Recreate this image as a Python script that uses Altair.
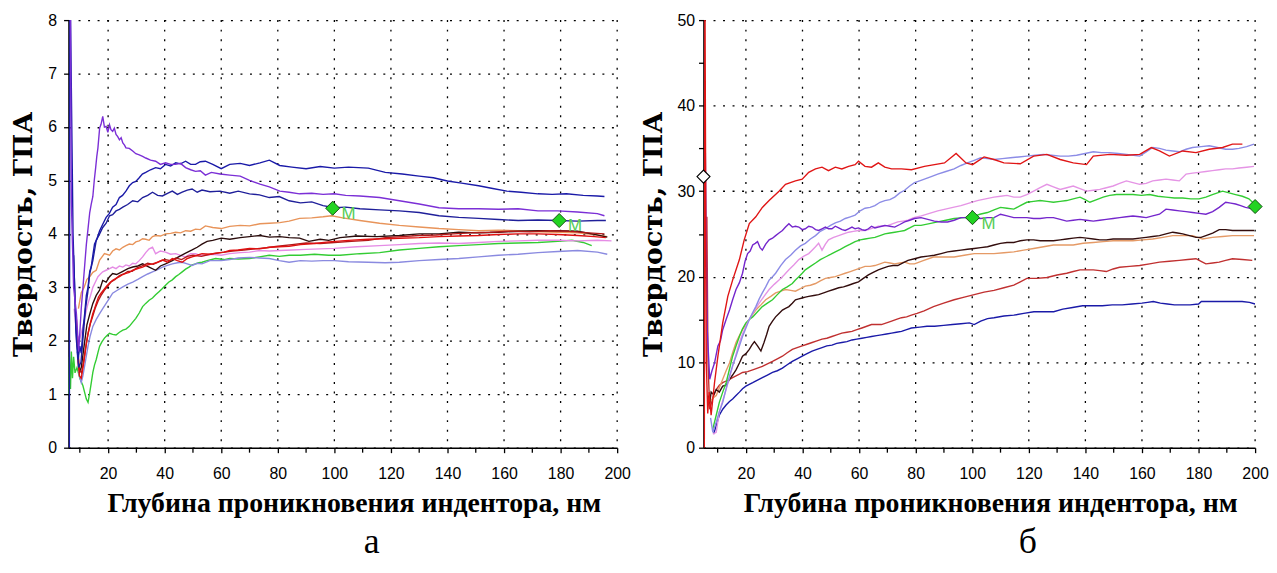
import altair as alt
import pandas as pd

# ---------------- panel "а" : hardness (GPa) vs indenter depth (nm) ----------------
A_NAVY = [(6.3, 0.0), (6.5, 9.0), (7.6, 4.0), (8.6, 2.2), (9.4, 1.65), (10.0, 1.9), (10.5, 1.77), (11.1, 2.2),
          (11.7, 2.5), (12.3, 2.85), (12.9, 3.0), (13.5, 3.3), (14.0, 3.38), (14.6, 3.6), (15.2, 3.81), (16.0, 3.9),
          (17.0, 4.06), (18.1, 4.18), (19.3, 4.31), (20.4, 4.38), (21.6, 4.5), (22.8, 4.55), (24.0, 4.68), (25.1, 4.72),
          (26.3, 4.8), (27.5, 4.9), (28.7, 4.96), (29.8, 4.98), (31.0, 5.05), (32.1, 5.12), (33.3, 5.15), (35.0, 5.2),
          (36.8, 5.24), (38.5, 5.22), (40.3, 5.3), (42.1, 5.27), (43.9, 5.33), (45.6, 5.31), (47.4, 5.36), (49.2, 5.3),
          (50.9, 5.3), (52.6, 5.35), (54.4, 5.36), (57.0, 5.3), (60.0, 5.22), (63.0, 5.3), (66.7, 5.32), (70.0, 5.28),
          (73.7, 5.33), (77.0, 5.38), (80.7, 5.28), (85.0, 5.25), (90.0, 5.22), (95.0, 5.26), (100.0, 5.23),
          (105.0, 5.25), (112.0, 5.23), (118.0, 5.15), (124.0, 5.12), (130.0, 5.08), (135.0, 5.05), (140.0, 4.99),
          (145.0, 4.95), (151.0, 4.9), (156.0, 4.85), (161.0, 4.8), (166.0, 4.78), (172.0, 4.75), (177.0, 4.74),
          (182.0, 4.75), (188.0, 4.72), (193.0, 4.71), (195.5, 4.7)]
A_BLUE = [(7.8, 3.6), (8.8, 2.0), (9.6, 1.5), (10.4, 1.6), (11.2, 2.1), (12.0, 2.6), (12.8, 2.9), (13.5, 3.26),
          (14.6, 3.5), (15.8, 3.88), (17.0, 4.0), (18.1, 4.12), (19.3, 4.2), (20.5, 4.34), (21.6, 4.36), (22.8, 4.43),
          (24.0, 4.46), (25.2, 4.5), (26.9, 4.55), (28.7, 4.62), (30.5, 4.6), (32.2, 4.68), (34.0, 4.72), (35.7, 4.78),
          (37.5, 4.72), (39.2, 4.71), (41.0, 4.76), (42.7, 4.8), (44.5, 4.74), (46.2, 4.78), (48.0, 4.82), (49.7, 4.84),
          (51.5, 4.78), (53.2, 4.82), (56.0, 4.79), (59.6, 4.8), (63.0, 4.76), (66.0, 4.8), (70.0, 4.75), (73.5, 4.73),
          (77.0, 4.68), (80.5, 4.7), (84.0, 4.62), (88.0, 4.58), (92.0, 4.6), (96.0, 4.53), (100.0, 4.49),
          (104.0, 4.5), (109.0, 4.47), (116.0, 4.45), (123.0, 4.43), (130.0, 4.4), (137.0, 4.34), (144.0, 4.31),
          (151.0, 4.29), (158.0, 4.27), (165.0, 4.25), (172.0, 4.26), (179.0, 4.25), (186.0, 4.24), (193.0, 4.25),
          (196.0, 4.25)]
A_PURPLE = [(6.6, 9.0), (7.0, 4.6), (7.8, 3.0), (8.8, 2.5), (9.6, 1.8), (10.5, 2.6), (11.1, 3.0), (11.7, 3.4),
            (12.3, 3.8), (12.9, 4.1), (13.5, 4.4), (14.0, 4.55), (14.6, 4.7), (15.1, 5.0), (15.6, 5.24), (16.0, 5.45),
            (16.4, 5.61), (17.0, 5.98), (17.5, 6.05), (18.1, 6.2), (18.7, 6.0), (19.3, 6.01), (19.9, 5.9),
            (20.5, 6.04), (21.0, 5.95), (21.6, 5.92), (22.2, 5.98), (22.8, 5.86), (23.4, 5.82), (24.0, 5.76),
            (24.6, 5.8), (25.2, 5.7), (25.8, 5.66), (26.3, 5.61), (27.5, 5.6), (28.7, 5.55), (29.8, 5.5), (31.0, 5.48),
            (32.2, 5.45), (33.3, 5.42), (35.0, 5.38), (36.8, 5.36), (38.5, 5.3), (40.3, 5.33), (42.1, 5.3),
            (43.9, 5.3), (45.6, 5.32), (47.4, 5.24), (49.2, 5.2), (50.9, 5.17), (52.6, 5.18), (54.4, 5.1),
            (56.5, 5.15), (59.6, 5.12), (63.0, 5.1), (66.7, 5.08), (70.0, 5.0), (73.7, 4.93), (77.0, 4.88),
            (80.7, 4.8), (84.0, 4.78), (87.7, 4.75), (92.0, 4.76), (96.0, 4.74), (100.0, 4.75), (104.0, 4.72),
            (109.0, 4.71), (116.0, 4.68), (123.0, 4.62), (130.0, 4.56), (137.0, 4.49), (144.0, 4.47), (151.0, 4.47),
            (158.0, 4.46), (165.0, 4.47), (172.0, 4.43), (179.0, 4.43), (186.0, 4.41), (193.0, 4.38), (195.5, 4.34)]
A_ORANGE = [(9.5, 2.6), (10.5, 2.9), (11.5, 3.0), (12.5, 3.15), (13.5, 3.2), (14.6, 3.28), (15.8, 3.32),
            (17.0, 3.51), (18.7, 3.63), (20.5, 3.6), (21.6, 3.68), (22.8, 3.72), (24.0, 3.7), (25.2, 3.75),
            (26.3, 3.78), (27.5, 3.81), (28.7, 3.8), (29.8, 3.85), (31.0, 3.87), (32.2, 3.91), (33.3, 3.9),
            (34.5, 3.88), (35.7, 3.95), (36.8, 3.97), (38.5, 3.96), (40.3, 4.0), (42.1, 4.01), (43.9, 4.03),
            (45.6, 4.02), (47.4, 4.06), (49.2, 4.05), (50.9, 4.09), (52.6, 4.08), (54.4, 4.15), (57.0, 4.12),
            (60.0, 4.1), (63.0, 4.14), (66.7, 4.16), (70.0, 4.15), (73.7, 4.19), (77.0, 4.2), (80.7, 4.21),
            (84.0, 4.24), (87.7, 4.29), (92.0, 4.3), (96.0, 4.32), (99.0, 4.34), (103.0, 4.3), (109.0, 4.25),
            (116.0, 4.2), (123.0, 4.16), (130.0, 4.13), (137.0, 4.1), (144.0, 4.08), (151.0, 4.06), (158.0, 4.07),
            (165.0, 4.06), (172.0, 4.04), (179.0, 4.03), (186.0, 4.02), (193.0, 3.98), (196.5, 3.95)]
A_BLACK = [(9.8, 1.4), (10.5, 1.5), (11.5, 1.9), (12.5, 2.3), (13.5, 2.5), (14.6, 2.7), (15.8, 2.85), (17.0, 2.95),
           (18.1, 3.13), (19.3, 3.1), (20.5, 3.2), (21.6, 3.26), (23.0, 3.24), (25.2, 3.3), (27.0, 3.35),
           (28.7, 3.38), (30.5, 3.4), (32.2, 3.44), (34.5, 3.38), (36.8, 3.32), (38.5, 3.4), (40.3, 3.44),
           (42.7, 3.5), (44.9, 3.57), (47.4, 3.64), (49.7, 3.7), (51.5, 3.75), (53.2, 3.81), (55.0, 3.86),
           (57.0, 3.88), (60.0, 3.92), (63.0, 3.9), (66.7, 3.93), (70.0, 3.95), (73.7, 3.97), (77.0, 3.94),
           (80.7, 3.95), (84.0, 3.93), (87.7, 3.92), (91.0, 3.86), (95.0, 3.9), (98.0, 3.88), (102.0, 3.93),
           (108.0, 3.96), (115.0, 3.95), (123.0, 3.97), (130.0, 4.0), (137.0, 4.0), (144.0, 4.03), (151.0, 4.02),
           (158.0, 4.03), (165.0, 4.05), (172.0, 4.06), (179.0, 4.06), (186.0, 4.05), (192.0, 3.99), (196.5, 3.94)]
A_RED = [(8.8, 2.4), (9.4, 1.6), (9.9, 1.34), (10.5, 1.3), (11.1, 1.5), (11.7, 1.71), (12.3, 1.95), (12.9, 2.14),
         (13.8, 2.35), (14.6, 2.51), (15.2, 2.6), (15.8, 2.7), (16.6, 2.82), (17.5, 2.89), (18.4, 2.95), (19.3, 3.01),
         (20.5, 3.08), (21.6, 3.13), (22.8, 3.17), (24.0, 3.2), (25.2, 3.24), (26.3, 3.26), (27.5, 3.28),
         (28.7, 3.32), (30.5, 3.35), (32.2, 3.38), (34.0, 3.42), (35.7, 3.44), (37.5, 3.47), (39.2, 3.51),
         (41.0, 3.47), (42.7, 3.54), (44.5, 3.5), (46.2, 3.47), (48.0, 3.54), (49.7, 3.57), (51.5, 3.6),
         (53.2, 3.63), (56.0, 3.62), (58.0, 3.64), (61.0, 3.66), (63.0, 3.69), (66.0, 3.7), (70.0, 3.73),
         (73.5, 3.72), (77.0, 3.75), (80.5, 3.76), (84.0, 3.77), (88.0, 3.8), (93.0, 3.82), (98.0, 3.85),
         (105.0, 3.88), (112.0, 3.9), (118.0, 3.91), (123.0, 3.92), (130.0, 3.93), (137.0, 3.95), (144.0, 3.96),
         (151.0, 3.97), (158.0, 3.99), (165.0, 4.0), (172.0, 4.0), (179.0, 3.99), (186.0, 3.97), (192.0, 3.95),
         (196.0, 3.93)]
A_DARKRED = [(9.2, 1.9), (9.9, 1.45), (10.6, 1.4), (11.3, 1.6), (12.0, 1.85), (12.8, 2.1), (13.6, 2.3),
             (14.5, 2.45), (15.5, 2.62), (16.5, 2.75), (17.5, 2.85), (18.6, 2.94), (19.8, 3.02), (21.0, 3.1),
             (22.5, 3.15), (24.0, 3.22), (25.5, 3.25), (27.0, 3.3), (28.5, 3.3), (30.0, 3.36), (32.0, 3.4),
             (34.0, 3.45), (36.0, 3.43), (38.0, 3.48), (40.0, 3.52), (42.0, 3.5), (44.0, 3.55), (46.0, 3.52),
             (48.0, 3.58), (50.0, 3.6), (53.0, 3.58), (56.0, 3.62), (60.0, 3.65), (64.0, 3.68), (68.0, 3.7),
             (72.0, 3.72), (76.0, 3.74), (80.0, 3.77), (85.0, 3.8), (90.0, 3.83), (95.0, 3.82), (100.0, 3.84),
             (106.0, 3.86), (112.0, 3.88), (118.0, 3.93), (124.0, 3.95), (130.0, 3.97), (136.0, 3.98), (142.0, 4.0),
             (148.0, 4.02), (155.0, 4.03), (162.0, 4.05), (169.0, 4.04), (176.0, 4.06), (183.0, 4.05), (190.0, 4.02),
             (195.5, 4.0)]
A_PINK = [(8.0, 2.6), (8.8, 2.14), (9.9, 2.02), (11.1, 2.27), (12.0, 2.5), (12.9, 2.7), (13.8, 2.85), (14.6, 3.0),
          (15.5, 3.1), (16.4, 3.2), (17.3, 3.25), (18.1, 3.29), (19.3, 3.32), (20.5, 3.35), (21.6, 3.38),
          (22.8, 3.35), (24.0, 3.4), (25.2, 3.38), (26.3, 3.42), (27.5, 3.4), (28.7, 3.45), (29.8, 3.44), (31.0, 3.5),
          (32.2, 3.57), (33.3, 3.65), (34.5, 3.72), (35.7, 3.75), (36.8, 3.63), (38.5, 3.68), (40.3, 3.66),
          (42.1, 3.62), (43.9, 3.63), (45.6, 3.6), (47.4, 3.57), (49.2, 3.63), (50.9, 3.63), (52.6, 3.6),
          (54.4, 3.6), (57.0, 3.62), (60.0, 3.6), (63.0, 3.63), (66.7, 3.65), (70.0, 3.66), (73.7, 3.69),
          (77.0, 3.68), (80.7, 3.69), (85.0, 3.7), (90.0, 3.71), (95.0, 3.72), (100.0, 3.73), (108.0, 3.76),
          (116.0, 3.78), (123.0, 3.8), (130.0, 3.82), (137.0, 3.83), (144.0, 3.82), (151.0, 3.84), (158.0, 3.86),
          (165.0, 3.87), (172.0, 3.88), (179.0, 3.88), (186.0, 3.87), (193.0, 3.88), (198.0, 3.87)]
A_LIGHTBLUE = [(9.0, 1.8), (9.8, 1.35), (10.5, 1.22), (11.1, 1.35), (11.7, 1.53), (12.3, 1.72), (12.9, 1.9),
               (13.7, 2.1), (14.6, 2.27), (15.8, 2.4), (17.0, 2.51), (18.1, 2.6), (19.3, 2.7), (20.5, 2.8),
               (21.6, 2.89), (23.4, 2.95), (25.2, 3.01), (27.0, 3.06), (28.7, 3.1), (30.5, 3.15), (32.2, 3.2),
               (34.0, 3.25), (35.7, 3.29), (37.5, 3.33), (39.2, 3.38), (41.0, 3.41), (42.7, 3.44), (44.5, 3.46),
               (46.2, 3.47), (48.0, 3.44), (49.7, 3.41), (51.5, 3.45), (53.2, 3.44), (56.0, 3.5), (60.0, 3.5),
               (63.0, 3.52), (66.0, 3.55), (70.0, 3.56), (73.5, 3.55), (77.0, 3.54), (80.5, 3.5), (84.0, 3.47),
               (88.0, 3.5), (92.0, 3.49), (96.0, 3.5), (100.0, 3.5), (105.0, 3.48), (112.0, 3.47), (118.0, 3.46),
               (123.0, 3.47), (130.0, 3.5), (137.0, 3.52), (144.0, 3.54), (151.0, 3.57), (158.0, 3.6), (165.0, 3.62),
               (172.0, 3.65), (179.0, 3.67), (186.0, 3.69), (193.0, 3.66), (196.5, 3.62)]
A_GREEN = [(6.1, 1.0), (6.3, 1.7), (6.7, 1.1), (7.0, 1.8), (7.4, 1.3), (7.8, 1.7), (8.3, 1.4), (9.0, 1.5),
           (10.0, 1.3), (11.1, 1.16), (12.3, 0.91), (12.9, 0.85), (13.5, 1.03), (14.0, 1.2), (14.6, 1.41),
           (15.2, 1.55), (15.8, 1.65), (16.4, 1.78), (17.0, 1.9), (17.8, 1.98), (18.7, 2.05), (19.6, 2.1),
           (20.5, 2.14), (21.6, 2.12), (22.8, 2.11), (24.0, 2.16), (25.2, 2.2), (26.3, 2.22), (27.5, 2.27),
           (28.7, 2.35), (29.8, 2.42), (31.0, 2.52), (32.2, 2.64), (33.3, 2.7), (34.5, 2.76), (35.7, 2.8),
           (36.8, 2.86), (38.0, 2.92), (39.2, 2.98), (40.3, 3.04), (41.5, 3.1), (42.7, 3.14), (43.9, 3.2),
           (45.0, 3.24), (46.2, 3.29), (47.4, 3.34), (48.6, 3.38), (49.7, 3.42), (50.9, 3.44), (52.0, 3.46),
           (53.2, 3.47), (55.0, 3.5), (58.0, 3.54), (61.0, 3.52), (63.0, 3.54), (66.0, 3.53), (70.0, 3.54),
           (73.5, 3.57), (77.0, 3.6), (80.5, 3.58), (84.0, 3.6), (88.0, 3.6), (93.0, 3.62), (98.0, 3.6),
           (102.0, 3.6), (109.0, 3.63), (116.0, 3.65), (123.0, 3.7), (130.0, 3.73), (137.0, 3.76), (144.0, 3.78),
           (151.0, 3.8), (158.0, 3.82), (165.0, 3.83), (172.0, 3.84), (179.0, 3.86), (184.0, 3.88), (188.0, 3.84),
           (191.0, 3.78)]
A_MARKERS = [(99.4, 4.48), (179.5, 4.25)]

# ---------------- panel "б" ----------------
B_RED = [(5.3, 0.0), (5.5, 55.0), (6.0, 10.0), (6.5, 4.0), (7.0, 6.5), (7.7, 3.8), (8.9, 7.6), (10.1, 10.7),
         (11.8, 14.6), (13.6, 17.7), (15.3, 19.6), (17.7, 22.0), (19.4, 24.3), (21.2, 26.2), (23.5, 27.0),
         (25.8, 28.1), (28.2, 28.9), (31.7, 30.0), (34.0, 30.8), (37.5, 31.2), (39.9, 31.4), (42.2, 32.2),
         (44.6, 32.6), (46.9, 32.8), (49.2, 32.4), (51.6, 32.8), (53.9, 32.6), (56.3, 32.9), (58.6, 33.1),
         (59.8, 33.5), (62.1, 32.9), (64.4, 32.8), (66.8, 33.3), (69.1, 32.8), (71.5, 32.6), (75.0, 32.6),
         (78.5, 32.5), (83.1, 32.9), (90.2, 33.3), (94.3, 34.4), (97.8, 33.3), (100.1, 33.1), (104.2, 34.0),
         (107.7, 33.7), (111.2, 33.3), (117.0, 33.2), (121.7, 34.1), (126.4, 34.3), (131.1, 33.7), (135.7, 33.3),
         (140.4, 33.1), (142.8, 34.1), (148.6, 34.3), (154.5, 34.2), (159.2, 34.3), (163.3, 35.1), (166.2, 34.7),
         (169.7, 34.1), (174.4, 34.7), (179.1, 34.5), (183.8, 34.9), (188.5, 35.1), (192.0, 35.5), (195.5, 35.5)]
B_LIGHTBLUE = [(7.5, 3.5), (8.3, 1.8), (9.5, 3.0), (10.6, 4.2), (11.8, 5.3), (13.0, 6.9), (14.2, 8.4), (15.3, 9.6),
               (16.5, 10.7), (17.7, 11.9), (18.8, 13.0), (20.0, 14.0), (21.2, 15.0), (22.4, 15.8), (23.5, 16.5),
               (24.7, 17.4), (25.8, 18.1), (27.0, 18.8), (28.2, 19.6), (29.4, 20.0), (30.5, 20.4), (32.3, 21.3),
               (34.0, 22.0), (35.8, 22.5), (37.5, 23.1), (39.3, 23.6), (41.0, 23.9), (42.8, 24.4), (44.6, 24.8),
               (46.3, 25.3), (48.1, 25.6), (49.9, 26.0), (51.6, 26.3), (53.4, 26.5), (55.1, 26.8), (56.9, 27.0),
               (58.6, 27.2), (60.4, 27.7), (62.1, 28.0), (63.9, 28.1), (65.6, 28.3), (67.4, 28.7), (69.1, 28.9),
               (70.9, 29.0), (72.6, 29.3), (74.4, 29.8), (76.1, 30.1), (77.9, 30.6), (79.6, 31.0), (81.4, 31.2),
               (83.1, 31.4), (85.5, 31.7), (87.8, 32.0), (90.7, 32.3), (93.6, 32.6), (96.0, 33.0), (98.3, 33.3),
               (100.7, 33.6), (103.0, 33.9), (105.4, 33.8), (107.7, 33.7), (110.6, 33.8), (113.5, 33.9),
               (116.4, 34.0), (119.3, 34.1), (122.3, 34.2), (125.2, 34.3), (128.1, 34.2), (131.1, 34.1),
               (134.0, 34.1), (136.9, 34.2), (139.9, 34.4), (142.8, 34.6), (145.7, 34.5), (148.6, 34.5),
               (151.6, 34.4), (154.5, 34.3), (157.0, 34.2), (159.2, 34.1), (161.5, 34.6), (163.8, 35.1),
               (166.2, 35.0), (168.5, 34.8), (170.9, 34.7), (173.2, 34.6), (175.6, 34.9), (177.9, 35.1),
               (180.9, 35.2), (183.8, 35.3), (186.7, 35.1), (189.6, 34.9), (192.0, 34.9), (194.3, 35.0),
               (197.0, 35.2), (199.6, 35.5)]
B_PINK = [(8.3, 1.6), (9.5, 1.8), (10.6, 4.2), (11.8, 5.5), (13.0, 6.8), (14.2, 8.2), (15.3, 9.5), (16.5, 10.9),
          (17.7, 12.3), (18.8, 13.3), (20.0, 14.2), (21.2, 15.0), (22.4, 15.7), (23.5, 16.3), (24.7, 16.9),
          (26.4, 17.7), (28.2, 18.5), (30.0, 19.1), (31.7, 19.6), (33.5, 20.2), (35.2, 20.8), (37.0, 21.4),
          (38.7, 22.0), (40.5, 22.4), (42.2, 22.7), (43.4, 23.1), (44.6, 23.5), (45.7, 23.9), (46.9, 23.1),
          (48.1, 23.8), (49.2, 24.3), (51.0, 24.6), (52.8, 24.8), (54.5, 25.0), (56.3, 25.2), (58.0, 25.3),
          (59.8, 25.4), (61.5, 25.4), (63.3, 25.5), (65.0, 25.7), (66.8, 25.9), (68.5, 25.9), (70.3, 26.0),
          (72.0, 26.2), (73.7, 26.4), (75.5, 26.5), (77.3, 26.6), (79.3, 26.9), (82.0, 27.1), (84.9, 27.4),
          (87.8, 27.7), (90.5, 27.9), (93.2, 28.1), (96.0, 28.3), (98.9, 28.6), (101.8, 28.9), (104.7, 29.1),
          (107.7, 29.3), (110.0, 29.4), (112.3, 29.5), (114.7, 29.3), (117.0, 29.3), (119.3, 29.6), (121.7, 30.0),
          (124.0, 30.4), (126.4, 30.8), (128.7, 30.5), (131.1, 30.2), (133.4, 30.4), (135.7, 30.6), (138.1, 30.3),
          (140.4, 30.0), (142.8, 30.1), (145.1, 30.2), (147.4, 30.4), (149.8, 30.6), (152.1, 30.9), (154.5, 31.2),
          (156.8, 31.0), (159.2, 30.8), (161.5, 30.9), (163.8, 31.2), (166.2, 31.3), (168.5, 31.4), (170.9, 31.3),
          (173.2, 31.2), (175.6, 32.0), (177.9, 32.1), (180.2, 32.2), (182.6, 32.3), (184.9, 32.4), (187.3, 32.5),
          (189.6, 32.6), (192.0, 32.6), (194.3, 32.7), (197.0, 32.8), (199.6, 32.9)]
B_GREEN = [(8.3, 2.2), (9.5, 3.8), (10.6, 5.3), (11.8, 6.5), (13.0, 7.6), (14.2, 9.2), (15.3, 10.7), (16.5, 11.9),
           (17.7, 13.0), (18.8, 13.9), (20.0, 14.6), (21.2, 15.0), (22.4, 15.3), (24.1, 15.9), (25.8, 16.5),
           (27.6, 16.9), (29.4, 17.3), (31.1, 17.9), (32.9, 18.5), (34.6, 18.8), (36.4, 19.2), (37.5, 19.6),
           (38.7, 20.0), (39.9, 20.4), (41.0, 20.8), (42.8, 21.2), (44.6, 21.6), (46.3, 22.0), (48.1, 22.3),
           (49.9, 22.6), (51.6, 22.9), (53.4, 23.2), (55.1, 23.5), (56.9, 23.8), (58.6, 24.1), (60.4, 24.3),
           (62.1, 24.4), (63.9, 24.5), (65.6, 24.6), (67.4, 24.8), (69.1, 25.0), (70.9, 25.1), (72.6, 25.2),
           (74.4, 25.3), (76.1, 25.4), (77.9, 25.7), (79.6, 26.0), (81.9, 26.0), (84.9, 26.2), (87.8, 26.4),
           (90.7, 26.6), (93.6, 26.8), (97.1, 26.9), (100.1, 27.0), (102.7, 27.3), (105.4, 27.5), (107.7, 27.8),
           (110.0, 28.1), (112.3, 28.0), (114.7, 27.9), (117.0, 28.3), (119.3, 28.7), (121.7, 28.8), (124.0, 28.9),
           (126.4, 28.8), (128.7, 28.7), (131.1, 28.8), (133.4, 28.9), (135.7, 29.1), (138.1, 29.3), (139.9, 29.0),
           (141.6, 28.7), (144.0, 29.0), (146.3, 29.3), (148.6, 29.5), (151.0, 29.6), (154.0, 29.6), (156.8, 29.6),
           (159.8, 29.5), (162.7, 29.6), (165.6, 29.4), (168.5, 29.3), (171.5, 29.2), (174.4, 29.2), (177.3, 29.1),
           (180.2, 29.1), (182.6, 29.3), (184.9, 29.6), (186.7, 29.8), (188.5, 30.0), (190.8, 29.8), (193.1, 29.6),
           (195.5, 29.4), (197.8, 29.1), (200.0, 28.4)]
B_PURPLE = [(5.5, 39.5), (6.3, 14.0), (7.2, 8.0), (8.0, 9.0), (8.9, 9.9), (10.1, 11.9), (11.0, 12.5), (11.8, 13.8),
            (13.0, 15.0), (14.2, 16.1), (15.3, 17.3), (16.5, 18.5), (17.7, 19.3), (18.8, 20.4), (19.7, 21.8),
            (20.6, 22.7), (21.5, 23.0), (22.4, 23.7), (23.3, 23.9), (24.1, 24.1), (25.0, 23.4), (25.8, 23.1),
            (27.0, 23.8), (28.2, 24.3), (29.4, 24.5), (30.5, 24.8), (31.7, 25.1), (32.9, 25.4), (34.0, 25.8),
            (35.2, 26.2), (36.4, 25.8), (37.5, 25.9), (38.7, 25.8), (39.9, 25.5), (41.0, 25.6), (42.2, 25.9),
            (43.4, 25.8), (44.6, 25.5), (45.7, 25.4), (46.9, 25.6), (48.1, 25.8), (49.2, 25.6), (50.4, 25.6),
            (51.6, 25.9), (52.8, 25.7), (54.0, 25.5), (55.1, 25.4), (56.3, 25.6), (57.5, 25.8), (58.6, 25.6),
            (59.8, 25.7), (61.0, 25.5), (62.1, 25.4), (63.3, 25.6), (64.4, 25.9), (65.6, 25.7), (66.8, 25.8),
            (68.0, 25.9), (69.1, 26.0), (70.9, 25.9), (72.6, 25.8), (74.4, 26.1), (76.1, 26.4), (77.9, 26.6),
            (79.6, 26.8), (81.9, 26.9), (84.3, 26.7), (86.6, 26.5), (89.0, 26.4), (91.3, 26.4), (93.6, 26.6),
            (96.0, 26.9), (98.0, 26.9), (100.1, 26.9), (103.0, 26.8), (105.4, 26.9), (107.7, 26.9), (110.0, 27.3),
            (112.3, 27.1), (114.7, 26.9), (117.0, 26.9), (119.3, 26.9), (121.7, 26.8), (124.0, 26.8), (126.4, 26.9),
            (128.7, 26.9), (131.1, 26.7), (133.4, 26.5), (135.7, 26.6), (138.1, 26.7), (140.4, 26.6), (142.8, 26.5),
            (145.1, 26.6), (147.4, 26.7), (149.8, 26.8), (152.1, 26.9), (154.5, 27.0), (156.8, 27.1), (159.2, 27.0),
            (161.5, 26.9), (163.8, 27.1), (166.2, 27.3), (168.5, 27.9), (170.9, 27.8), (173.2, 27.7), (175.6, 27.6),
            (177.9, 27.5), (180.2, 27.4), (182.6, 27.3), (185.0, 27.6), (187.3, 28.1), (189.6, 28.7), (191.4, 28.6),
            (193.1, 28.5), (194.9, 28.3), (196.6, 28.1), (199.6, 27.9)]
B_BLACK = [(6.6, 6.1), (7.2, 5.2), (7.7, 6.5), (8.6, 6.2), (9.5, 6.8), (10.6, 6.5), (11.8, 7.2), (13.0, 7.3),
           (14.2, 8.0), (15.3, 8.5), (16.5, 9.1), (17.7, 9.9), (18.8, 10.7), (20.0, 11.0), (21.2, 11.5), (22.1, 12.0),
           (23.0, 12.4), (24.1, 11.9), (25.3, 11.3), (26.4, 12.3), (27.3, 13.2), (28.2, 14.2), (29.4, 14.8),
           (30.5, 15.3), (31.7, 15.7), (32.9, 16.1), (34.0, 16.3), (35.2, 16.5), (36.4, 16.9), (37.5, 17.3),
           (38.7, 17.4), (39.9, 17.5), (41.0, 17.6), (42.2, 17.7), (44.0, 17.8), (45.7, 17.9), (47.5, 18.1),
           (49.2, 18.3), (51.0, 18.5), (52.8, 18.7), (54.5, 18.8), (56.3, 19.0), (58.0, 19.2), (59.8, 19.4),
           (61.5, 19.8), (63.3, 20.2), (65.0, 20.5), (66.8, 20.8), (68.5, 21.0), (70.3, 21.2), (72.0, 21.3),
           (73.7, 21.3), (75.5, 21.6), (77.3, 21.9), (79.6, 22.1), (81.9, 22.3), (84.3, 22.4), (86.6, 22.5),
           (89.0, 22.7), (91.3, 22.9), (93.6, 23.0), (96.0, 23.1), (98.3, 23.2), (100.7, 23.3), (103.0, 23.4),
           (105.4, 23.5), (107.7, 23.7), (110.0, 23.9), (112.3, 24.0), (114.7, 24.0), (117.0, 24.2), (119.3, 24.3),
           (121.7, 24.3), (124.0, 24.2), (126.4, 24.2), (128.7, 24.2), (131.1, 24.3), (133.4, 24.4), (135.7, 24.5),
           (138.1, 24.6), (140.4, 24.5), (142.8, 24.4), (145.1, 24.3), (147.4, 24.3), (149.8, 24.4), (152.1, 24.4),
           (154.5, 24.4), (156.8, 24.4), (159.2, 24.5), (161.5, 24.6), (163.8, 24.7), (166.2, 24.8), (168.5, 25.0),
           (170.9, 25.2), (172.6, 25.1), (174.4, 25.0), (176.8, 24.8), (179.1, 24.6), (180.9, 24.6), (182.6, 24.8),
           (185.0, 25.1), (187.3, 25.5), (189.6, 25.5), (192.0, 25.4), (195.0, 25.4), (198.0, 25.4), (199.6, 25.4)]
B_ORANGE = [(7.2, 5.3), (8.3, 5.8), (9.5, 6.1), (10.6, 7.0), (11.8, 8.0), (13.0, 9.0), (14.2, 9.9), (15.3, 11.1),
            (16.5, 12.3), (17.7, 13.1), (18.8, 13.8), (20.0, 14.4), (21.2, 15.0), (22.4, 15.6), (23.5, 16.1),
            (25.3, 16.7), (27.0, 17.3), (28.8, 17.7), (30.5, 18.1), (32.3, 18.3), (34.0, 18.5), (35.8, 18.4),
            (37.5, 18.3), (39.3, 18.6), (41.0, 18.9), (42.8, 19.0), (44.6, 19.2), (46.3, 19.5), (48.1, 19.8),
            (49.9, 19.9), (51.6, 20.0), (53.4, 20.2), (55.1, 20.4), (56.9, 20.6), (58.6, 20.8), (60.4, 21.0),
            (62.1, 21.2), (63.9, 21.2), (65.6, 21.3), (67.4, 21.5), (69.1, 21.7), (70.9, 21.6), (72.6, 21.5),
            (74.4, 21.6), (76.1, 21.7), (77.9, 21.5), (79.6, 21.5), (82.9, 21.9), (86.3, 22.3), (89.9, 22.3),
            (93.6, 22.3), (97.2, 22.5), (100.7, 22.7), (104.2, 22.7), (107.7, 22.7), (111.2, 22.8), (114.7, 22.9),
            (118.2, 23.1), (121.7, 23.3), (125.2, 23.5), (128.7, 23.7), (132.2, 23.7), (135.7, 23.7), (139.2, 23.9),
            (142.8, 24.0), (146.3, 24.1), (149.8, 24.2), (153.3, 24.2), (156.8, 24.2), (160.3, 24.3), (163.8, 24.4),
            (167.4, 24.6), (170.9, 24.8), (174.4, 24.8), (177.9, 24.8), (181.4, 24.4), (184.9, 24.6), (188.5, 24.7),
            (192.0, 24.8), (195.8, 24.8), (199.6, 24.8)]
B_DARKRED = [(6.2, 27.0), (6.6, 10.0), (7.2, 4.5), (8.3, 5.8), (9.5, 6.8), (10.6, 7.3), (11.8, 7.6), (13.0, 7.8),
             (14.2, 8.0), (15.3, 8.2), (16.5, 8.4), (17.7, 8.6), (18.8, 8.8), (20.6, 8.9), (22.4, 9.1), (24.1, 9.3),
             (25.8, 9.5), (27.6, 9.8), (29.4, 10.1), (31.1, 10.4), (32.9, 10.7), (34.6, 11.1), (36.4, 11.5),
             (38.1, 11.7), (39.9, 11.9), (41.6, 12.1), (43.4, 12.3), (45.1, 12.5), (46.9, 12.7), (48.6, 12.8),
             (50.4, 13.0), (52.1, 13.2), (53.9, 13.4), (55.7, 13.5), (57.5, 13.6), (59.2, 13.8), (61.0, 14.0),
             (62.7, 14.2), (64.4, 14.4), (66.2, 14.4), (67.9, 14.4), (69.7, 14.6), (71.5, 14.8), (73.2, 15.0),
             (75.0, 15.2), (76.8, 15.3), (78.5, 15.5), (80.5, 15.7), (83.0, 16.0), (86.3, 16.5), (89.9, 16.9),
             (93.6, 17.3), (97.2, 17.6), (100.7, 17.9), (104.2, 18.2), (107.7, 18.4), (111.2, 18.7), (114.7, 19.0),
             (117.0, 19.4), (119.3, 19.8), (122.9, 19.8), (126.4, 19.9), (130.0, 20.2), (133.4, 20.4), (135.7, 20.6),
             (138.1, 20.8), (140.4, 20.8), (142.8, 20.8), (145.1, 20.7), (147.4, 20.6), (149.8, 20.9), (152.1, 21.1),
             (155.6, 21.2), (159.2, 21.3), (162.7, 21.5), (166.2, 21.7), (169.7, 21.8), (173.2, 21.9), (176.2, 22.0),
             (179.1, 22.1), (180.9, 21.8), (182.6, 21.5), (185.0, 21.6), (187.3, 21.7), (189.6, 21.9), (192.0, 22.1),
             (195.5, 22.0), (199.0, 21.9)]
B_BLUE = [(8.6, 1.6), (9.5, 2.6), (10.6, 3.8), (11.8, 4.5), (13.0, 5.0), (14.2, 5.4), (15.3, 5.7), (16.5, 6.1),
          (17.7, 6.5), (18.8, 6.9), (20.0, 7.2), (21.2, 7.4), (22.4, 7.6), (24.1, 7.9), (25.8, 8.2), (27.6, 8.5),
          (29.4, 8.8), (31.1, 9.0), (32.9, 9.3), (34.6, 9.7), (36.4, 10.1), (38.1, 10.4), (39.9, 10.7), (41.6, 11.0),
          (43.4, 11.3), (45.1, 11.5), (46.9, 11.7), (48.6, 11.9), (50.4, 12.0), (52.1, 12.2), (53.9, 12.3),
          (55.7, 12.4), (57.5, 12.6), (59.2, 12.7), (61.0, 12.8), (62.7, 12.9), (64.4, 13.0), (66.2, 13.1),
          (67.9, 13.2), (69.7, 13.3), (71.5, 13.4), (73.2, 13.5), (75.0, 13.6), (76.8, 13.8), (78.5, 14.0),
          (81.5, 14.1), (84.0, 14.2), (86.7, 14.2), (89.9, 14.3), (93.0, 14.4), (96.0, 14.5), (99.0, 14.6),
          (100.7, 14.4), (103.0, 14.8), (105.4, 15.1), (107.7, 15.2), (111.2, 15.4), (114.7, 15.5), (118.2, 15.7),
          (121.8, 15.9), (125.3, 15.9), (128.8, 15.9), (132.0, 16.2), (135.5, 16.4), (139.0, 16.6), (142.5, 16.6),
          (146.0, 16.6), (149.5, 16.7), (153.0, 16.7), (156.5, 16.8), (160.0, 16.9), (162.0, 17.0), (164.0, 17.1),
          (166.5, 16.9), (169.0, 16.8), (171.5, 16.7), (174.0, 16.7), (177.0, 16.7), (180.0, 16.8), (181.0, 17.1),
          (184.5, 17.1), (188.0, 17.1), (191.7, 17.1), (195.4, 17.1), (198.0, 17.0), (200.0, 16.8)]
B_MARKERS = [(100.1, 26.9), (200.0, 28.2)]
B_START_MARK = [(5.0, 31.7)]

X_MAJOR = [20, 40, 60, 80, 100, 120, 140, 160, 180, 200]
X_MINOR = [10, 30, 50, 70, 90, 110, 130, 150, 170, 190]

X_TITLE = "Глубина проникновения индентора, нм"
Y_TITLE = "Твердость, ГПА"

SERIES_A = [("a_orange", "#e8945a", A_ORANGE), ("a_green", "#33cc33", A_GREEN),
            ("a_lightblue", "#8a8ae0", A_LIGHTBLUE), ("a_pink", "#e58ce5", A_PINK),
            ("a_black", "#2b0c0c", A_BLACK), ("a_darkred", "#b01a1a", A_DARKRED), ("a_red", "#e01010", A_RED),
            ("a_blue", "#1f1f9a", A_BLUE), ("a_navy", "#1a1aa8", A_NAVY), ("a_purple", "#7b2fd6", A_PURPLE)]
SERIES_B = [("b_blue", "#1a1aa8", B_BLUE), ("b_darkred", "#c03030", B_DARKRED), ("b_orange", "#e59a66", B_ORANGE),
            ("b_black", "#330d0d", B_BLACK), ("b_green", "#33cc33", B_GREEN), ("b_pink", "#e594e5", B_PINK),
            ("b_lightblue", "#8c8ce6", B_LIGHTBLUE), ("b_purple", "#7426cc", B_PURPLE), ("b_red", "#e01515", B_RED)]

LABEL_FONT = "Liberation Sans"
GRID_DASH = [2, 7.6]


def lines_df(series):
    rows = []
    for name, _, pts in series:
        for i, (x, y) in enumerate(pts):
            rows.append({"curve": name, "x": x, "y": y, "i": i})
    return pd.DataFrame(rows)


def panel(series, markers, xmin, ymax, ystep, ymajor, width, height, ytitle_x, ylab_pad, caption, caption_dx,
          extra_pts=None):
    names = [s[0] for s in series]
    cols = [s[1] for s in series]
    xscale = alt.Scale(domain=[xmin, 200], nice=False, zero=False)
    yscale = alt.Scale(domain=[0, ymax], nice=False, zero=False)
    nyt = int(round(ymax / ystep))
    yvals = [round(k * ystep, 3) for k in range(nyt + 1)]
    xaxis = alt.Axis(
        values=X_MAJOR, format="d", grid=False,
        domainColor="black", domainWidth=1.6, tickColor="black", tickSize=5, tickWidth=1.3,
        labelFont=LABEL_FONT, labelFontSize=16, labelColor="black", labelPadding=13,
        labelOverlap=False, labelFlush=False,
        title=X_TITLE, titleFont="Liberation Serif", titleFontWeight="bold", titleFontSize=28,
        titleColor="black", titleX=width / 2 + 11, titleY=42)
    yaxis = alt.Axis(
        values=yvals, format="d", labelExpr="datum.value %% %s === 0 ? datum.label : ''" % ymajor,
        grid=True, gridColor="black", gridDash=GRID_DASH, gridWidth=1.3,
        gridOpacity={"condition": {"test": "datum.value %% %s !== 0" % ymajor, "value": 0}, "value": 1},
        domainColor="black", domainWidth=1.6, tickColor="black", tickSize=5, tickWidth=1.3,
        labelFont=LABEL_FONT, labelFontSize=16, labelColor="black", labelPadding=ylab_pad,
        labelOverlap=False, labelFlush=False,
        title=Y_TITLE, titleFont="DejaVu Serif", titleFontWeight="bold", titleFontSize=27,
        titleColor="black", titleX=ytitle_x, titleBaseline="middle")
    X = alt.X("x:Q", scale=xscale, axis=xaxis)
    Y = alt.Y("y:Q", scale=yscale, axis=yaxis)
    vgrid = alt.Chart(pd.DataFrame({"x": X_MAJOR})).mark_rule(
        color="black", strokeDash=GRID_DASH, strokeWidth=1.3).encode(
        x=X, y=alt.value(0), y2=alt.value(height))
    lines = alt.Chart(lines_df(series)).mark_line(clip=True, strokeWidth=1.4).encode(
        x=X, y=Y,
        color=alt.Color("curve:N", scale=alt.Scale(domain=names, range=cols), legend=None),
        detail="curve:N",
        order="i:Q",
    )
    minor = alt.Chart(pd.DataFrame({"x": X_MINOR})).mark_tick(
        size=5, thickness=1.3, color="black", opacity=1).encode(x=X, y=alt.value(height + 2.5))
    mdf = pd.DataFrame(markers, columns=["x", "y"])
    pts = alt.Chart(mdf).mark_point(shape="diamond", filled=True, size=200, fill="#22d422",
                                    stroke="#145214", strokeWidth=1, opacity=1).encode(x=X, y=Y)
    lbl = alt.Chart(mdf).mark_text(text="M", align="left", baseline="middle", dx=9, dy=6, fontSize=17,
                                   color="#55cc55", font=LABEL_FONT, clip=True).encode(x=X, y=Y)
    layers = [vgrid, lines, minor]
    if extra_pts is not None:
        sdf = pd.DataFrame(extra_pts, columns=["x", "y"])
        layers.append(alt.Chart(sdf).mark_point(shape="diamond", filled=True, size=170, fill="white",
                                                stroke="black", strokeWidth=1.2, opacity=1).encode(x=X, y=Y))
    layers += [pts, lbl]
    return alt.layer(*layers).properties(
        width=width, height=height,
        title=alt.TitleParams(caption, orient="bottom", anchor="middle", font="Liberation Serif", fontSize=36,
                              fontWeight="normal", color="black", dx=caption_dx, offset=8, baseline="top"))


left = panel(SERIES_A, A_MARKERS, 6, 8, 0.5, 1, 553, 431, -45, 7, "а", 29)
right = panel(SERIES_B, B_MARKERS, 5, 50, 5, 10, 556, 431, -50, 4, "б", 49, extra_pts=B_START_MARK)

chart = alt.hconcat(left, right, spacing=87, bounds="flush").resolve_scale(
    color="independent"
).properties(
    padding={"left": 2, "top": 2, "right": 0, "bottom": 0},
    background="white",
).configure_view(strokeOpacity=0)

chart.save("out.html", embed_options={"renderer": "svg", "actions": False})
